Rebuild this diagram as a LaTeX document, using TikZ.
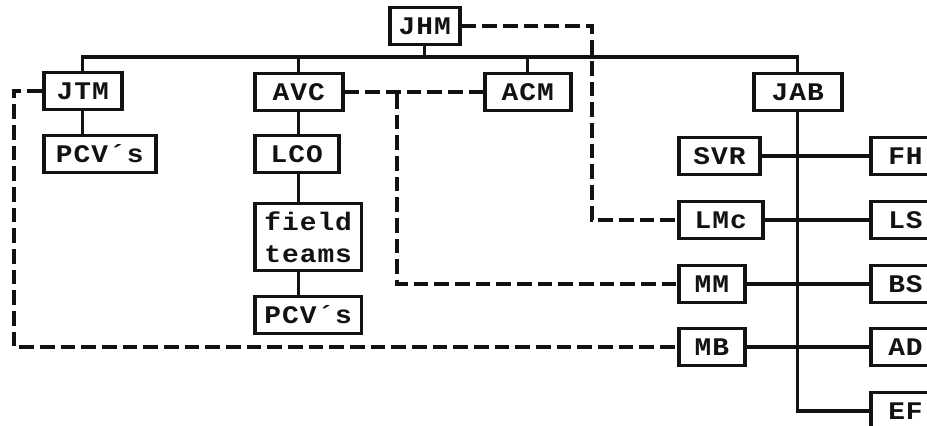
\documentclass[tikz,border=0pt]{standalone}
\usepackage{fontspec}
\newfontfamily\typefont{Liberation Mono}[FakeStretch=1.1, LetterSpace=4]
\usetikzlibrary{positioning}
\definecolor{ink}{RGB}{18,18,18}

\begin{document}
\begin{tikzpicture}[
  x=0.75pt, y=-0.75pt,
  box/.style={draw=ink, line width=2.7pt, anchor=west,
              minimum height=28pt, inner xsep=2pt, inner ysep=1pt,
              font=\typefont\bfseries\fontsize{19}{24}\selectfont, text=ink},
  tie/.style={draw=ink, line width=2.5pt},
  link/.style={draw=ink, line width=2.7pt, dash pattern=on 11pt off 4.5pt}
]

% Page frame, same size as the scanned chart.
\clip (0,0) rectangle (927,425);

% Top row.
\node[box, minimum width=52.5pt] (jhm) at (388,26) {JHM};
\node[box, minimum width=58.5pt] (jtm) at (42,91) {JTM};
\node[box, minimum width=66pt] (avc) at (253,92) {AVC};
\node[box, minimum width=64.5pt] (acm) at (483,92) {ACM};
\node[box, minimum width=66pt] (jab) at (752,92) {JAB};

% Left columns.
\node[box, minimum width=84pt] (pcvA) at (42,154) {PCV´s};
\node[box, minimum width=63pt] (lco) at (253,154) {LCO};
\node[box, minimum width=80pt, minimum height=50pt, align=center]
  (field) at (253,237) {field\\teams};
\node[box, minimum width=80pt] (pcvB) at (253,315) {PCV´s};

% Staff under JAB.
\node[box, minimum width=61pt] (svr) at (677,156) {SVR};
\node[box, minimum width=63pt] (lmc) at (677,220) {LMc};
\node[box, minimum width=49.5pt] (mm) at (677,284) {MM};
\node[box, minimum width=49.5pt] (mb) at (677,347) {MB};

\node[box, minimum width=52pt] (fh) at (869,156) {FH};
\node[box, minimum width=52pt] (ls) at (869,220) {LS};
\node[box, minimum width=52pt] (bs) at (869,284) {BS};
\node[box, minimum width=52pt] (ad) at (869,347) {AD};
\node[box, minimum width=52pt] (ef) at (869,411) {EF};

% Solid lines of authority.
\coordinate (bus) at (0,57);
\draw[tie] (jhm.south) -- (jhm.south |- bus);
\draw[tie] (jtm.north) -- (jtm.north |- bus) -- (jab.north |- bus)
  -- (jab.north);
\draw[tie] (avc.north) -- (avc.north |- bus);
\draw[tie] (acm.north) -- (acm.north |- bus);

\draw[tie] (jtm.south) -- (jtm.south |- pcvA.north);
\draw[tie] (avc.south) -- (avc.south |- lco.north);
\draw[tie] (avc.south |- lco.south) -- (avc.south |- field.north);
\draw[tie] (avc.south |- field.south) -- (avc.south |- pcvB.north);

\draw[tie] (jab.south) |- (ef.west);
\draw[tie] (svr.east) -- (fh.west);
\draw[tie] (lmc.east) -- (ls.west);
\draw[tie] (mm.east) -- (bs.west);
\draw[tie] (mb.east) -- (ad.west);

% Dashed lines of liaison.
\coordinate (jhmturn) at (592,26);
\draw[link] (jhm.east) -- (jhmturn) |- (lmc.west);

\draw[link] (avc.east) -- (acm.west);
\coordinate (avcturn) at (397,94);
\draw[link] (avcturn) |- (mm.west);

\coordinate (jtmturn) at (14,91);
\draw[link] (jtm.west) -- (jtmturn) |- (mb.west);

\end{tikzpicture}
\end{document}
